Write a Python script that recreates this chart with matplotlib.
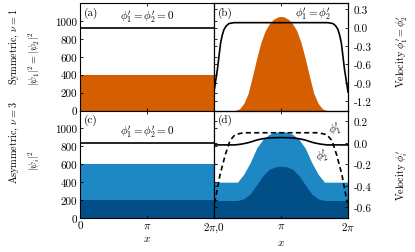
import numpy as np
import matplotlib
matplotlib.use("Agg")
from matplotlib import pyplot as plt

plt.rcParams['font.family'] = ['cmr10']
plt.rcParams['mathtext.fontset'] = 'cm'
plt.rcParams['axes.unicode_minus'] = False
plt.rcParams['font.size'] = 8

# densities (homogeneous states, left column)
sym_flat = 400
sym_flat_vel = 920
asym_flat_1 = 200
asym_flat_tot = 600
asym_flat_vel = 840

# symmetric soliton (panel b)
x_b = [0, 0.5, 1.0, 1.2, 1.4, 1.6, 1.8, 2.0, 2.2, 2.4, 2.6, 2.8, 3.0, np.pi,
       3.28, 3.48, 3.68, 3.88, 4.08, 4.28, 4.48, 4.68, 4.88, 5.08, 5.28, 5.78, 2*np.pi]
dens_b = [0, 0, 0, 20, 80, 190, 380, 580, 760, 890, 970, 1020, 1045, 1050,
          1045, 1020, 970, 890, 760, 580, 380, 190, 80, 20, 0, 0, 0]
xv_b = [0, 0.08, 0.16, 0.24, 0.31, 0.39, 0.47, 0.58, 0.70, 0.94, 5.34,
        5.58, 5.70, 5.81, 5.89, 5.97, 6.04, 6.12, 2*np.pi]
vel_b = [-1.05, -0.86, -0.68, -0.45, -0.25, -0.12, -0.03, 0.03, 0.065, 0.08, 0.08,
         0.065, 0.03, -0.03, -0.12, -0.25, -0.45, -0.68, -1.05]

# asymmetric soliton (panel d)
x_d = [0, 0.8, 1.1, 1.4, 1.7, 2.0, 2.3, 2.6, 2.9, np.pi,
       3.38, 3.68, 3.98, 4.28, 4.58, 4.88, 5.18, 5.48, 2*np.pi]
dens_d_tot = [400, 400, 400, 490, 620, 780, 880, 935, 960, 965,
              960, 935, 880, 780, 620, 490, 400, 400, 400]
dens_d_1 = [195, 195, 196, 215, 270, 370, 475, 545, 572, 578,
            572, 545, 475, 370, 270, 215, 196, 195, 195]
xv_d = [0, 0.05, 0.28, 0.52, 0.75, 0.98, 1.37, 4.91, 5.30, 5.53, 5.76, 6.00, 6.23, 2*np.pi]
vel_d_1 = [-0.56, -0.54, -0.30, -0.118, 0.02, 0.074, 0.093, 0.093, 0.074, 0.02,
           -0.118, -0.30, -0.54, -0.56]
xv2_d = [0, 1.0, 1.3, 1.6, 1.8, 2.0, 2.25, 2.5, 2.8, np.pi,
         3.48, 3.78, 4.03, 4.28, 4.48, 4.68, 4.98, 5.28, 2*np.pi]
vel_d_2 = [-0.02, -0.02, -0.012, 0.0, 0.012, 0.025, 0.036, 0.043, 0.047, 0.048,
           0.047, 0.043, 0.036, 0.025, 0.012, 0.0, -0.012, -0.02, -0.02]

orange = '#d55e00'
light_blue = '#1d88c4'
dark_blue = '#024f88'

W, H = 415, 253
fig = plt.figure(figsize=(W/100, H/100), dpi=100)


def box(x0, y0, x1, y1):
    return [x0/W, 1 - y1/H, (x1 - x0)/W, (y1 - y0)/H]


ax_a = fig.add_axes(box(80, 4, 214, 111.5))
ax_b = fig.add_axes(box(214, 4, 348, 111.5))
ax_c = fig.add_axes(box(80, 111.5, 214, 219))
ax_d = fig.add_axes(box(214, 111.5, 348, 219))

xlim = (0, 2*np.pi)
for ax in (ax_a, ax_b, ax_c, ax_d):
    ax.set_xlim(*xlim)
    ax.set_ylim(0, 1200)
    ax.set_xticks([0, np.pi, 2*np.pi])
    ax.tick_params(direction='in', length=2.5, width=0.6, top=True, pad=2)
    for s in ax.spines.values():
        s.set_linewidth(0.8)

for ax in (ax_a, ax_c):
    ax.set_yticks([0, 200, 400, 600, 800, 1000])
    ax.set_yticklabels(['0', '200', '400', '600', '800', '1000'])
for ax in (ax_b, ax_d):
    ax.set_yticks([200, 400, 600, 800, 1000])
    ax.set_yticklabels([])
for ax in (ax_a, ax_b):
    ax.set_xticklabels([])

# (a)
ax_a.fill_between(xlim, 0, sym_flat, color=orange, lw=0)
ax_a.axhline(sym_flat_vel, color='k', lw=1.2)
ax_a.text(0.03, 0.97, '(a)', transform=ax_a.transAxes, va='top', ha='left')
ax_a.text(np.pi, 1050, r"$\phi_1'=\phi_2'=0$", ha='center', va='center')

# (b)
ax_b.fill_between(x_b, 0, dens_b, color=orange, lw=0)
tb = ax_b.twinx()
tb.plot(xv_b, vel_b, color='k', lw=1.2)
tb.set_ylim(-1.35, 0.4)
tb.set_yticks([0.3, 0.0, -0.3, -0.6, -0.9, -1.2])
tb.set_yticklabels(['0.3', '0.0', '-0.3', '-0.6', '-0.9', '-1.2'])
tb.tick_params(direction='in', length=2.5, width=0.6, left=True, pad=4)
ax_b.text(0.03, 0.97, '(b)', transform=ax_b.transAxes, va='top', ha='left')
ax_b.text(0.74, 0.905, r"$\phi_1'=\phi_2'$", transform=ax_b.transAxes,
          ha='center', va='center')

# (c)
ax_c.fill_between(xlim, 0, asym_flat_tot, color=light_blue, lw=0)
ax_c.fill_between(xlim, 0, asym_flat_1, color=dark_blue, lw=0)
ax_c.axhline(asym_flat_vel, color='k', lw=1.2)
ax_c.text(0.03, 0.97, '(c)', transform=ax_c.transAxes, va='top', ha='left')
ax_c.text(np.pi, 970, r"$\phi_1'=\phi_2'=0$", ha='center', va='center')
ax_c.set_xticklabels(['0', r'$\pi$', ''])
ax_c.set_xlabel(r'$x$', labelpad=2.5)

# (d)
ax_d.fill_between(x_d, 0, dens_d_tot, color=light_blue, lw=0)
ax_d.fill_between(x_d, 0, dens_d_1, color=dark_blue, lw=0)
td = ax_d.twinx()
td.plot(xv_d, vel_d_1, color='k', lw=1.2, ls='--', dashes=(3, 2))
td.plot(xv2_d, vel_d_2, color='k', lw=1.2)
td.set_ylim(-0.7, 0.3)
td.set_yticks([0.2, 0.0, -0.2, -0.4, -0.6])
td.set_yticklabels(['0.2', '0.0', '-0.2', '-0.4', '-0.6'])
td.tick_params(direction='in', length=2.5, width=0.6, left=True, pad=4)
ax_d.text(0.03, 0.97, '(d)', transform=ax_d.transAxes, va='top', ha='left')
ax_d.text(0.903, 0.832, r"$\phi_1'$", transform=ax_d.transAxes,
          ha='center', va='center', rotation=20)
ax_d.text(0.806, 0.579, r"$\phi_2'$", transform=ax_d.transAxes,
          ha='center', va='center', rotation=20)
ax_d.set_xticklabels([r'$2\pi$,0', r'$\pi$', r'$2\pi$'])
ax_d.set_xlabel(r'$x$', labelpad=2.5)

# row / axis labels
lab = dict(rotation=90, ha='center', va='center', fontsize=7.3)
fig.text(14/W, 1 - 47/H, r'Symmetric, $\nu=1$', **lab)
fig.text(34/W, 1 - 59/H, r'$|\psi_1|^2=|\psi_2|^2$', **lab)
fig.text(14/W, 1 - 143/H, r'Asymmetric, $\nu=3$', **lab)
fig.text(34/W, 1 - 161/H, r'$|\psi_i|^2$', **lab)
fig.text(402/W, 1 - 52/H, r"Velocity $\phi_1'=\phi_2'$", **lab)
fig.text(402/W, 1 - 175/H, r"Velocity $\phi_i'$", **lab)

fig.savefig('out.png', dpi=100)
